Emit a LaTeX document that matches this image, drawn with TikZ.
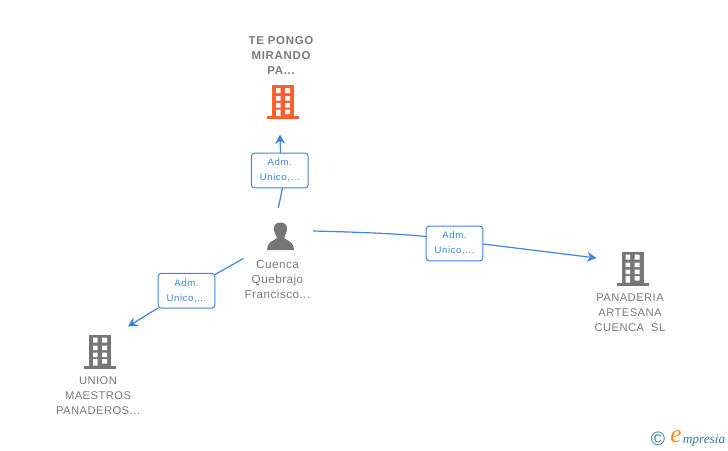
\documentclass[tikz,border=0pt]{standalone}
\usepackage{fontspec}
\setmainfont{Liberation Sans}
\newfontfamily\logofont{Liberation Serif}
\newfontfamily\spacedfont[LetterSpace=4]{Liberation Sans}
\newfontfamily\spacedbold[LetterSpace=6,BoldFont={Liberation Sans Bold}]{Liberation Sans Bold}
\newfontfamily\rolefont[LetterSpace=6]{Liberation Sans}
\usetikzlibrary{arrows.meta}
\definecolor{grayicon}{HTML}{767676}
\definecolor{graytext}{HTML}{7A7A7A}
\definecolor{orangeicon}{HTML}{FF5E2E}
\definecolor{linkblue}{HTML}{3F84E0}
\definecolor{logoteal}{HTML}{2F7F93}
\definecolor{logoorange}{HTML}{F08A1D}
\tikzset{
  nodelabel/.style={text=graytext,font=\spacedfont\fontsize{8.4}{11.25}\selectfont,align=center,inner sep=0pt},
  boldlabel/.style={nodelabel,font=\spacedbold\fontsize{8.6}{11.25}\selectfont},
  rolebox/.style={draw=linkblue,line width=0.75pt,rounded corners=2.2pt,fill=white,text=linkblue,
    minimum width=42.5pt,minimum height=26pt,inner sep=0pt,align=center,font=\rolefont\fontsize{7.2}{11.25}\selectfont},
  link/.style={draw=linkblue,line width=0.9pt},
  linkarrow/.style={link,-{Stealth[length=7pt,width=7.5pt]}},
  anchorpt/.style={inner sep=0pt,minimum size=0pt}
}
\newcommand{\buildingicon}[3]{% centre x, top y, colour
  \begin{scope}[shift={(#1,#2)}]
    \fill[#3] (-11,0) rectangle (11,31);
    \fill[#3] (-16,31) rectangle (16,34);
    \fill[white] (-7,3) rectangle (-2.5,8) (2,3) rectangle (7,8)
                 (-7,11) rectangle (-2.5,15.5) (2,11) rectangle (7,15.5)
                 (-7,18) rectangle (-2.5,22.5) (2,18) rectangle (7,22.5)
                 (-7,24.5) rectangle (-2.5,31) (2,24.5) rectangle (7,29);
  \end{scope}}
\begin{document}
\begin{tikzpicture}[x=0.75pt,y=-0.75pt]
\useasboundingbox (0,0) rectangle (728,450);
% icons
\buildingicon{283}{85}{orangeicon}
\buildingicon{632.5}{251.5}{grayicon}
\buildingicon{100}{334.5}{grayicon}
% person icon
\fill[grayicon] (280.5,222.5) .. controls (275,222.5) and (273.5,226.5) .. (274,230)
  .. controls (274.5,233) and (275.5,235) .. (276.5,236.5) -- (276.5,238.5)
  .. controls (273,241) and (267.5,241.5) .. (267,250) -- (294,250)
  .. controls (293.5,241.5) and (288,241) .. (284.5,238.5) -- (284.5,236.5)
  .. controls (285.5,235) and (286.5,233) .. (287,230)
  .. controls (287.5,226.5) and (286,222.5) .. (280.5,222.5) -- cycle;
% named nodes
\node[boldlabel] (topco) at (281,55.5) {TE PONGO\\MIRANDO\\PA...};
\node[nodelabel,font=\spacedfont\fontsize{8.8}{11.25}\selectfont] (person) at (277.5,279) {Cuenca\\Quebrajo\\Francisco...};
\node[nodelabel] (rightco) at (630,312.5) {PANADERIA\\ARTESANA\\CUENCA\ \ SL};
\node[nodelabel] (leftco) at (98,395.5) {UNION\\MAESTROS\\PANADEROS...};
\node[rolebox] (roleA) at (279.75,170.5) {Adm.\\Unico,...};
\node[rolebox] (roleB) at (454.5,243.5) {Adm.\\Unico,...};
\node[rolebox] (roleC) at (186.5,290.75) {Adm.\\Unico,...};
% connector ends
\coordinate (fromA) at (278.3,208);
\coordinate (tipA) at (280,134.5);
\coordinate (fromB) at (313,231);
\coordinate (tipB) at (596.5,258);
\coordinate (fromC) at (243.5,258.5);
\coordinate (tipC) at (128,326.5);
\coordinate (inA) at (282.5,188);
\coordinate (outA) at (280.5,153);
\coordinate (inB) at (426,236.5);
\coordinate (outB) at (483,244);
\coordinate (inC) at (215,274.5);
\coordinate (outC) at (158,308);
\draw[link] (fromA) -- (inA);
\draw[linkarrow] (outA) -- (tipA);
\draw[link] (fromB) .. controls (350,232) and (390,233) .. (inB);
\draw[linkarrow] (outB) -- (tipB);
\draw[link] (fromC) -- (inC);
\draw[linkarrow] (outC) -- (tipC);
% logo
\node[anchorpt,text=logoteal,font=\fontsize{14.5}{14.5}\selectfont] (copy) at (658,438.5) {©};
\node[anchorpt,text=logoorange,font=\logofont\itshape\fontsize{19}{19}\selectfont] (logoe) at (676,436.5) {e};
\node[anchorpt,text=logoteal,font=\logofont\itshape\fontsize{10}{10}\selectfont,anchor=west] (logow) at (682.5,440) {mpresia};
\end{tikzpicture}
\end{document}
